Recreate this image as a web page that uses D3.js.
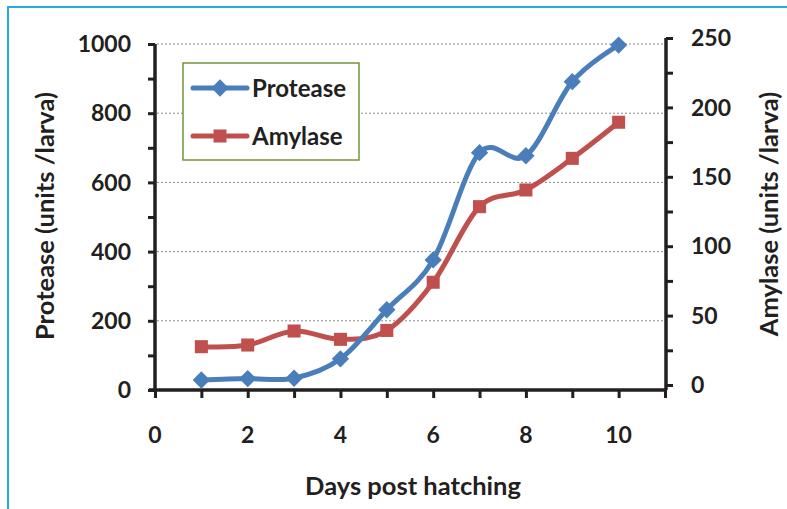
<!DOCTYPE html>
<html>
<head>
<meta charset="UTF-8">
<title>Protease and Amylase</title>
<script src="https://d3js.org/d3.v7.min.js"></script>
<style>
	body { margin: 0; background: #fff; }
	text { font-family: Lato, "Open Sans", sans-serif; font-weight: bold; fill: #231f20; }
</style>
</head>
<body>
	<div id="svg-container"></div>
	<script type="text/javascript">

		let days = [1, 2, 3, 4, 5, 6, 7, 8, 9, 10];
		let protease = [29, 33, 34, 90, 232, 376, 686, 677, 891, 997];
		let amylase = [27.6, 28.8, 38.9, 32.9, 39.3, 74, 128.5, 140.5, 163.3, 189.3];

		let xTickLabels = [0, 2, 4, 6, 8, 10];
		let leftTickLabels = [0, 200, 400, 600, 800, 1000];
		let rightTickLabels = [0, 50, 100, 150, 200, 250];

		let width = 787, height = 509;
		let ink = "#231f20";

		let svg = d3.select("#svg-container")
			.append("svg")
			.attr("width", width)
			.attr("height", height);

		// frame (top and left edges only)
		svg.append("path")
			.attr("d", "M8,509 V7 H787")
			.attr("fill", "none")
			.attr("stroke", "#29abe2")
			.attr("stroke-width", 2);

		let x = d3.scaleLinear().domain([0, 11]).range([155, 665]);
		let yLeft = d3.scaleLinear().domain([0, 1000]).range([390, 44]);
		// right axis sits a few px higher, as in the picture
		let yRight = d3.scaleLinear().domain([0, 250]).range([385, 38]);

		// dotted gridlines
		svg.append("g")
			.selectAll("line")
			.data(leftTickLabels.filter(d => d > 0))
			.join("line")
			.attr("x1", 157).attr("x2", 665)
			.attr("y1", d => yLeft(d)).attr("y2", d => yLeft(d))
			.attr("stroke", "#8c8c8c")
			.attr("stroke-width", 1)
			.attr("stroke-dasharray", "2,2");

		// axes: ticks from d3, labels drawn separately (only every other tick is labelled)
		let leftAxis = svg.append("g")
			.attr("transform", "translate(155,0)")
			.call(d3.axisLeft(yLeft).tickValues(d3.range(0, 1001, 100)).tickSize(7).tickFormat(""));
		let rightAxis = svg.append("g")
			.attr("transform", "translate(666,0)")
			.call(d3.axisRight(yRight).tickValues(d3.range(0, 251, 25)).tickSize(7).tickFormat(""));
		let bottomAxis = svg.append("g")
			.attr("transform", "translate(0,390)")
			.call(d3.axisBottom(x).tickValues(d3.range(0, 12)).tickSize(8).tickFormat(""));

		[leftAxis, rightAxis, bottomAxis].forEach(a => {
			a.select(".domain").attr("stroke", ink).attr("stroke-width", 3.5);
			a.selectAll(".tick line").attr("stroke", ink).attr("stroke-width", 3);
		});
		leftAxis.select(".domain").attr("d", "M0,390V44");
		rightAxis.select(".domain").attr("d", "M0,390V38");
		bottomAxis.select(".domain").attr("d", "M149,0H667");

		svg.append("g")
			.selectAll("text")
			.data(leftTickLabels)
			.join("text")
			.attr("x", 131)
			.attr("y", d => yLeft(d))
			.attr("dy", "0.36em")
			.attr("text-anchor", "end")
			.attr("font-size", 23)
			.text(d => d);

		svg.append("g")
			.selectAll("text")
			.data(rightTickLabels)
			.join("text")
			.attr("x", 691)
			.attr("y", d => yRight(d))
			.attr("dy", "0.36em")
			.attr("text-anchor", "start")
			.attr("font-size", 23)
			.text(d => d);

		svg.append("g")
			.selectAll("text")
			.data(xTickLabels)
			.join("text")
			.attr("x", d => x(d))
			.attr("y", 443)
			.attr("text-anchor", "middle")
			.attr("font-size", 23)
			.text(d => d);

		// axis titles
		svg.append("text")
			.attr("x", 413).attr("y", 495)
			.attr("text-anchor", "middle")
			.attr("font-size", 25.5)
			.text("Days post hatching");

		svg.append("text")
			.attr("transform", "translate(54,216) rotate(-90)")
			.attr("text-anchor", "middle")
			.attr("font-size", 25.5)
			.text("Protease (units /larva)");

		svg.append("text")
			.attr("transform", "translate(778,214) rotate(-90)")
			.attr("text-anchor", "middle")
			.attr("font-size", 25.5)
			.text("Amylase (units /larva)");

		let series = [
			{ name: "Protease", values: protease, y: yLeft, color: "#4a7ebb", rot: 45, size: 150 },
			{ name: "Amylase", values: amylase, y: yRight, color: "#c0504d", rot: 0, size: 170 }
		];

		let line = d3.line().curve(d3.curveCardinal.tension(0));
		let marker = s => d3.symbol().type(d3.symbolSquare).size(s.size)();

		// draw amylase first so protease sits on top
		series.slice().reverse().forEach(s => {
			let pts = days.map((d, i) => [x(d), s.y(s.values[i])]);
			svg.append("path")
				.attr("d", line(pts))
				.attr("fill", "none")
				.attr("stroke", s.color)
				.attr("stroke-width", 5);
			svg.append("g")
				.selectAll("path")
				.data(pts)
				.join("path")
				.attr("transform", p => `translate(${p[0]},${p[1]}) rotate(${s.rot})`)
				.attr("d", marker(s))
				.attr("fill", s.color);
		});

		// legend
		let legend = svg.append("g");
		legend.append("rect")
			.attr("x", 183).attr("y", 63)
			.attr("width", 176).attr("height", 97)
			.attr("fill", "#fff")
			.attr("stroke", "#77933c")
			.attr("stroke-width", 1.5);

		series.forEach((s, i) => {
			let ly = 88 + i * 48;
			legend.append("line")
				.attr("x1", 193).attr("x2", 247)
				.attr("y1", ly).attr("y2", ly)
				.attr("stroke", s.color)
				.attr("stroke-width", 5)
				.attr("stroke-linecap", "round");
			legend.append("path")
				.attr("transform", `translate(220,${ly}) rotate(${s.rot})`)
				.attr("d", marker(s))
				.attr("fill", s.color);
			legend.append("text")
				.attr("x", 252).attr("y", ly)
				.attr("dy", "0.36em")
				.attr("font-size", 24)
				.text(s.name);
		});
	</script>
</body>
</html>
